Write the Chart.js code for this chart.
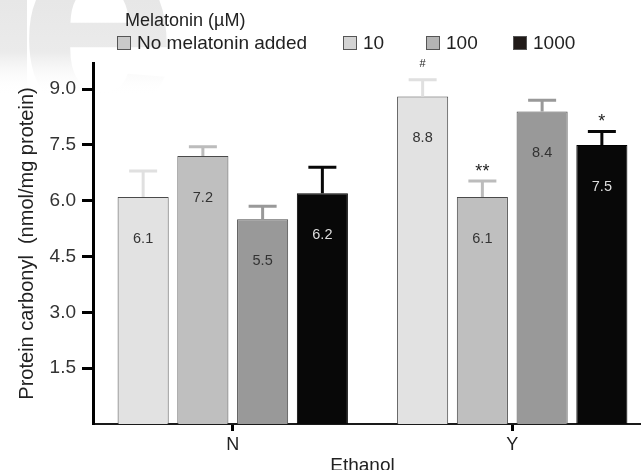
<!DOCTYPE html>
<html lang="en">

<head>
    <meta charset="UTF-8">
    <title>Protein carbonyl by ethanol and melatonin</title>
    <script src="https://cdn.jsdelivr.net/npm/chart.js"></script>
</head>

<style>
    body {
        margin: 0;
        overflow: hidden;
        background: #fff;
        font-family: "Liberation Sans", Arial, sans-serif;
        color: #222;
    }
    #box {
        position: relative;
        width: 660px;
        height: 470px;
    }
    #legend {
        position: absolute;
        left: 0;
        top: 0;
        font-size: 19px;
    }
    #legend .title {
        position: absolute;
        left: 125px;
        top: 10px;
        font-size: 18px;
        white-space: nowrap;
    }
    #legend .item {
        position: absolute;
        top: 33px;
        display: flex;
        align-items: center;
        white-space: nowrap;
        height: 20px;
    }
    #legend .swatch {
        width: 12px;
        height: 12px;
        border: 1px solid #555;
        margin-right: 6px;
    }
</style>

<body>
    <div id="box">
        <canvas id="myChart" width="660" height="470"></canvas>
        <div id="legend"></div>
    </div>

    <script>
        // data
        const groups = ['N', 'Y'];
        const seriesNames = ['No melatonin added', '10', '100', '1000'];
        const noMelatonin = [6.1, 8.8];
        const melatonin10 = [7.2, 6.1];
        const melatonin100 = [5.5, 8.4];
        const melatonin1000 = [6.2, 7.5];
        // upper error bars (SEM)
        const errNoMelatonin = [0.7, 0.45];
        const errMelatonin10 = [0.25, 0.43];
        const errMelatonin100 = [0.35, 0.3];
        const errMelatonin1000 = [0.7, 0.36];
        // significance marks
        const marksNoMelatonin = ['', '#'];
        const marksMelatonin10 = ['', '**'];
        const marksMelatonin100 = ['', ''];
        const marksMelatonin1000 = ['', '*'];
        const yTicks = [1.5, 3.0, 4.5, 6.0, 7.5, 9.0];

        const barColors = ['#e2e2e2', '#bfbfbf', '#999999', '#080808'];
        const errColors = ['#e0e0e0', '#bcbcbc', '#999999', '#080808'];
        const labelColors = ['#333', '#333', '#333', '#ddd'];
        const swatchColors = ['#c9c9c9', '#d3d3d3', '#b4b4b4', '#201a18'];
        const legendLeft = [117, 343, 426, 513];

        const values = [noMelatonin, melatonin10, melatonin100, melatonin1000];
        const errors = [errNoMelatonin, errMelatonin10, errMelatonin100, errMelatonin1000];
        const marks = [marksNoMelatonin, marksMelatonin10, marksMelatonin100, marksMelatonin1000];

        const FONT = '"Liberation Sans", Arial, sans-serif';

        // light watermark in the top-left corner
        const watermark = {
            id: 'watermark',
            beforeDraw(chart) {
                const ctx = chart.ctx;
                ctx.save();
                ctx.fillStyle = '#fff';
                ctx.fillRect(0, 0, chart.width, chart.height);
                const g = ctx.createLinearGradient(0, 0, 0, 95);
                g.addColorStop(0, '#e7e7e7');
                g.addColorStop(0.55, '#ebebeb');
                g.addColorStop(1, 'rgba(255,255,255,0)');
                ctx.fillStyle = g;
                ctx.fillRect(0, 0, 27, 95);
                ctx.font = 'bold 285px ' + FONT;
                ctx.textBaseline = 'alphabetic';
                ctx.fillText('e', 18, 115);
                ctx.restore();
            }
        };

        // error bars, value labels and significance marks
        const barExtras = {
            id: 'barExtras',
            afterDatasetsDraw(chart) {
                const ctx = chart.ctx;
                const y = chart.scales.y;
                ctx.save();
                chart.data.datasets.forEach((ds, di) => {
                    const meta = chart.getDatasetMeta(di);
                    meta.data.forEach((bar, i) => {
                        const top = y.getPixelForValue(ds.data[i] + errors[di][i]);
                        ctx.strokeStyle = errColors[di];
                        ctx.lineWidth = 3;
                        ctx.beginPath();
                        ctx.moveTo(bar.x, bar.y);
                        ctx.lineTo(bar.x, top);
                        ctx.moveTo(bar.x - 14, top);
                        ctx.lineTo(bar.x + 14, top);
                        ctx.stroke();

                        ctx.fillStyle = labelColors[di];
                        ctx.font = '14.5px ' + FONT;
                        ctx.textAlign = 'center';
                        ctx.textBaseline = 'middle';
                        ctx.fillText(ds.data[i].toFixed(1), bar.x, bar.y + 42);

                        const m = marks[di][i];
                        if (m) {
                            ctx.fillStyle = '#222';
                            ctx.textBaseline = 'alphabetic';
                            if (m === '#') {
                                ctx.font = '11px ' + FONT;
                                ctx.fillText(m, bar.x, top - 13);
                            } else {
                                ctx.font = '18px ' + FONT;
                                ctx.fillText(m, bar.x, top - 4);
                            }
                        }
                    });
                });
                ctx.restore();
            },
            afterDraw(chart) {
                const ctx = chart.ctx;
                const x = chart.scales.x;
                ctx.save();
                ctx.fillStyle = '#222';
                ctx.font = '19px ' + FONT;
                ctx.textAlign = 'center';
                ctx.textBaseline = 'middle';
                const mid = (x.getPixelForValue(0) + x.getPixelForValue(1)) / 2;
                ctx.fillText('Ethanol', mid - 10, 466);
                ctx.restore();
            }
        };

        const chartData = {
            labels: groups,
            datasets: seriesNames.map((name, i) => ({
                label: name,
                data: values[i],
                backgroundColor: barColors[i],
                borderColor: i === 3 ? '#000' : '#4a4a4a',
                borderWidth: 1,
                categoryPercentage: 0.855,
                barPercentage: 0.855
            }))
        };

        const chartDraw = function () {
            const chart = new Chart(document.getElementById('myChart'), {
                type: 'bar',
                data: chartData,
                options: {
                    responsive: false,
                    animation: false,
                    layout: { padding: { top: 63, right: 8, left: 0, bottom: 0 } },
                    plugins: {
                        legend: { display: false },
                        tooltip: { enabled: false }
                    },
                    scales: {
                        x: {
                            offset: true,
                            afterFit: (s) => { s.height = 46; },
                            border: { display: true, color: '#1a1a1a', width: 2 },
                            grid: {
                                offset: false,
                                drawOnChartArea: false,
                                drawTicks: true,
                                tickLength: 7,
                                tickWidth: 3,
                                tickColor: '#000'
                            },
                            ticks: {
                                color: '#222',
                                padding: 3,
                                font: { family: FONT, size: 18 }
                            }
                        },
                        y: {
                            min: 0,
                            max: 9.7,
                            afterFit: (s) => { s.width = 93; },
                            afterBuildTicks: (s) => { s.ticks = yTicks.map(v => ({ value: v })); },
                            border: { display: true, color: '#000', width: 3 },
                            grid: {
                                drawOnChartArea: false,
                                drawTicks: true,
                                tickLength: 11,
                                tickWidth: 3,
                                tickColor: '#000'
                            },
                            ticks: {
                                color: '#333',
                                padding: 6,
                                font: { family: FONT, size: 19 },
                                callback: (v) => Number(v).toFixed(1)
                            },
                            title: {
                                display: true,
                                text: 'Protein carbonyl  (nmol/mg protein)',
                                color: '#222',
                                padding: { top: 15, bottom: 0 },
                                font: { family: FONT, size: 20 }
                            }
                        }
                    }
                },
                plugins: [watermark, barExtras]
            });

            // Legend in HTML
            const legendDiv = document.getElementById('legend');
            const title = document.createElement('div');
            title.className = 'title';
            title.textContent = 'Melatonin (\u00b5M)';
            legendDiv.appendChild(title);
            chart.legend.legendItems.forEach((item, i) => {
                const div = document.createElement('div');
                div.className = 'item';
                div.style.left = legendLeft[i] + 'px';
                div.innerHTML = `<div class="swatch" style="background:${swatchColors[i]}"></div>${item.text}`;
                legendDiv.appendChild(div);
            });
        }

        window.onload = function () {
            chartDraw();
        }
    </script>
</body>

</html>
